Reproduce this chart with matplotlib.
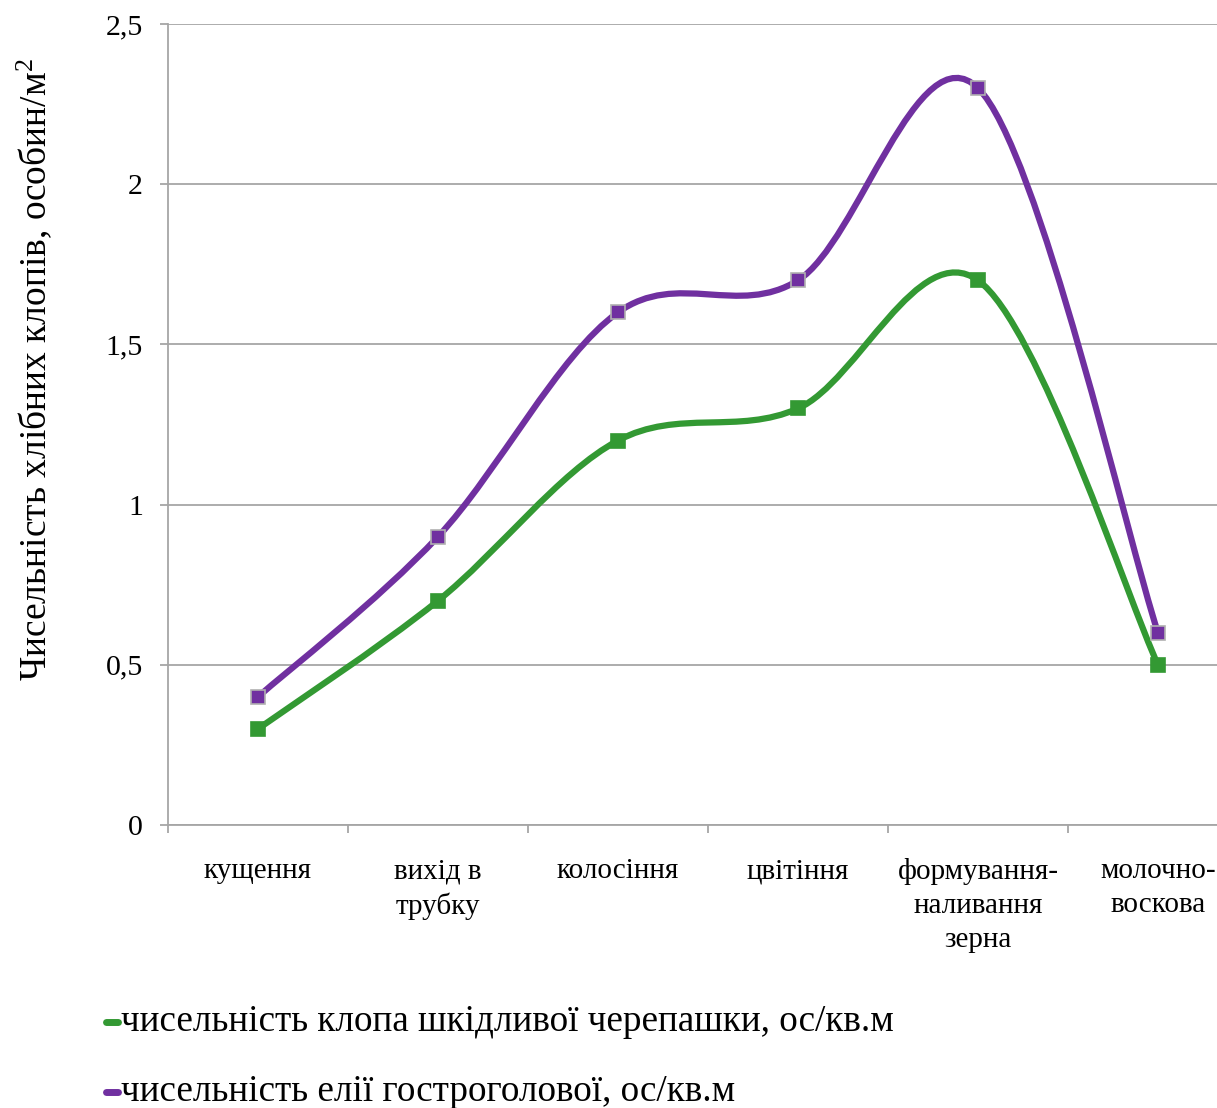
import numpy as np
import matplotlib
matplotlib.use("Agg")
import matplotlib.pyplot as plt
from matplotlib.path import Path
from matplotlib.patches import PathPatch
from matplotlib.lines import Line2D

plt.rcParams['font.family'] = ['Liberation Serif', 'DejaVu Serif']
plt.rcParams['mathtext.fontset'] = 'custom'
plt.rcParams['mathtext.rm'] = 'Liberation Serif'
plt.rcParams['mathtext.it'] = 'Liberation Serif'

categories = ["кущення", "вихід в\nтрубку", "колосіння", "цвітіння",
              "формування-\nналивання\nзерна", "молочно-\nвоскова"]
green_vals = [0.3, 0.7, 1.2, 1.3, 1.7, 0.5]
purple_vals = [0.4, 0.9, 1.6, 1.7, 2.3, 0.6]
series_names = ["чисельність клопа шкідливої черепашки, ос/кв.м",
                "чисельність елії гостроголової, ос/кв.м"]
colors = ["#339933", "#7030A0"]
yticks = [0, 0.5, 1, 1.5, 2, 2.5]
ytick_labels = ["0", "0,5", "1", "1,5", "2", "2,5"]

W, H = 1217, 1108
fig = plt.figure(figsize=(W / 100, H / 100), dpi=100)
ax = fig.add_axes([168 / W, 1 - 825 / H, 1080 / W, 801 / H])


def smooth_path(xs, ys):
    pts = np.column_stack([xs, ys]).astype(float)
    n = len(pts)
    verts = [pts[0]]
    codes = [Path.MOVETO]
    for i in range(n - 1):
        p0 = pts[i - 1] if i > 0 else pts[i]
        p1 = pts[i]
        p2 = pts[i + 1]
        p3 = pts[i + 2] if i + 2 < n else pts[i + 1]
        c1 = p1 + (p2 - p0) / 6.0
        c2 = p2 - (p3 - p1) / 6.0
        verts += [c1, c2, p2]
        codes += [Path.CURVE4] * 3
    return Path(verts, codes)


x = np.arange(len(categories))
for vals, col, edge in [(green_vals, colors[0], colors[0]),
                        (purple_vals, colors[1], "#b0b0b0")]:
    ax.add_patch(PathPatch(smooth_path(x, vals), fill=False, edgecolor=col,
                           lw=4.5, capstyle='round', zorder=3))
    ax.plot(x, vals, ls='none', marker='s', ms=10, mfc=col, mec=edge,
            mew=1.2, zorder=4)

ax.set_xlim(-0.5, len(categories) - 0.5)
ax.set_ylim(0, 2.5)
ax.set_yticks(yticks)
ax.set_yticklabels(ytick_labels)
ax.yaxis.grid(True, color='#a6a6a6', lw=1.3)
ax.set_axisbelow(True)

ax.set_xticks(x)
ax.set_xticklabels(categories, linespacing=1.38)
ax.set_xticks(np.arange(len(categories) + 1) - 0.5, minor=True)
ax.tick_params(axis='x', which='major', length=0, pad=24, labelsize=21)
ax.tick_params(axis='x', which='minor', length=6, width=1.3, color='#a6a6a6')
ax.tick_params(axis='y', length=6, width=1.3, color='#a6a6a6', pad=12, labelsize=21.5)

for s in ['top', 'right']:
    ax.spines[s].set_visible(False)
for s in ['left', 'bottom']:
    ax.spines[s].set_color('#a6a6a6')
    ax.spines[s].set_linewidth(1.3)

fig.text(34 / W, 1 - 370 / H, "Чисельність хлібних клопів, особин/м$^{2}$",
         rotation=90, ha='center', va='center', fontsize=27)

for i, (name, c) in enumerate(zip(series_names, colors)):
    yy = 1 - (1022 + 70 * i) / H
    fig.add_artist(Line2D([106 / W, 118 / W], [yy, yy], color=c, lw=5,
                          solid_capstyle='round', transform=fig.transFigure))
    fig.text(121 / W, yy, name, ha='left', va='center', fontsize=26.7)

fig.savefig("out.png", dpi=100)
